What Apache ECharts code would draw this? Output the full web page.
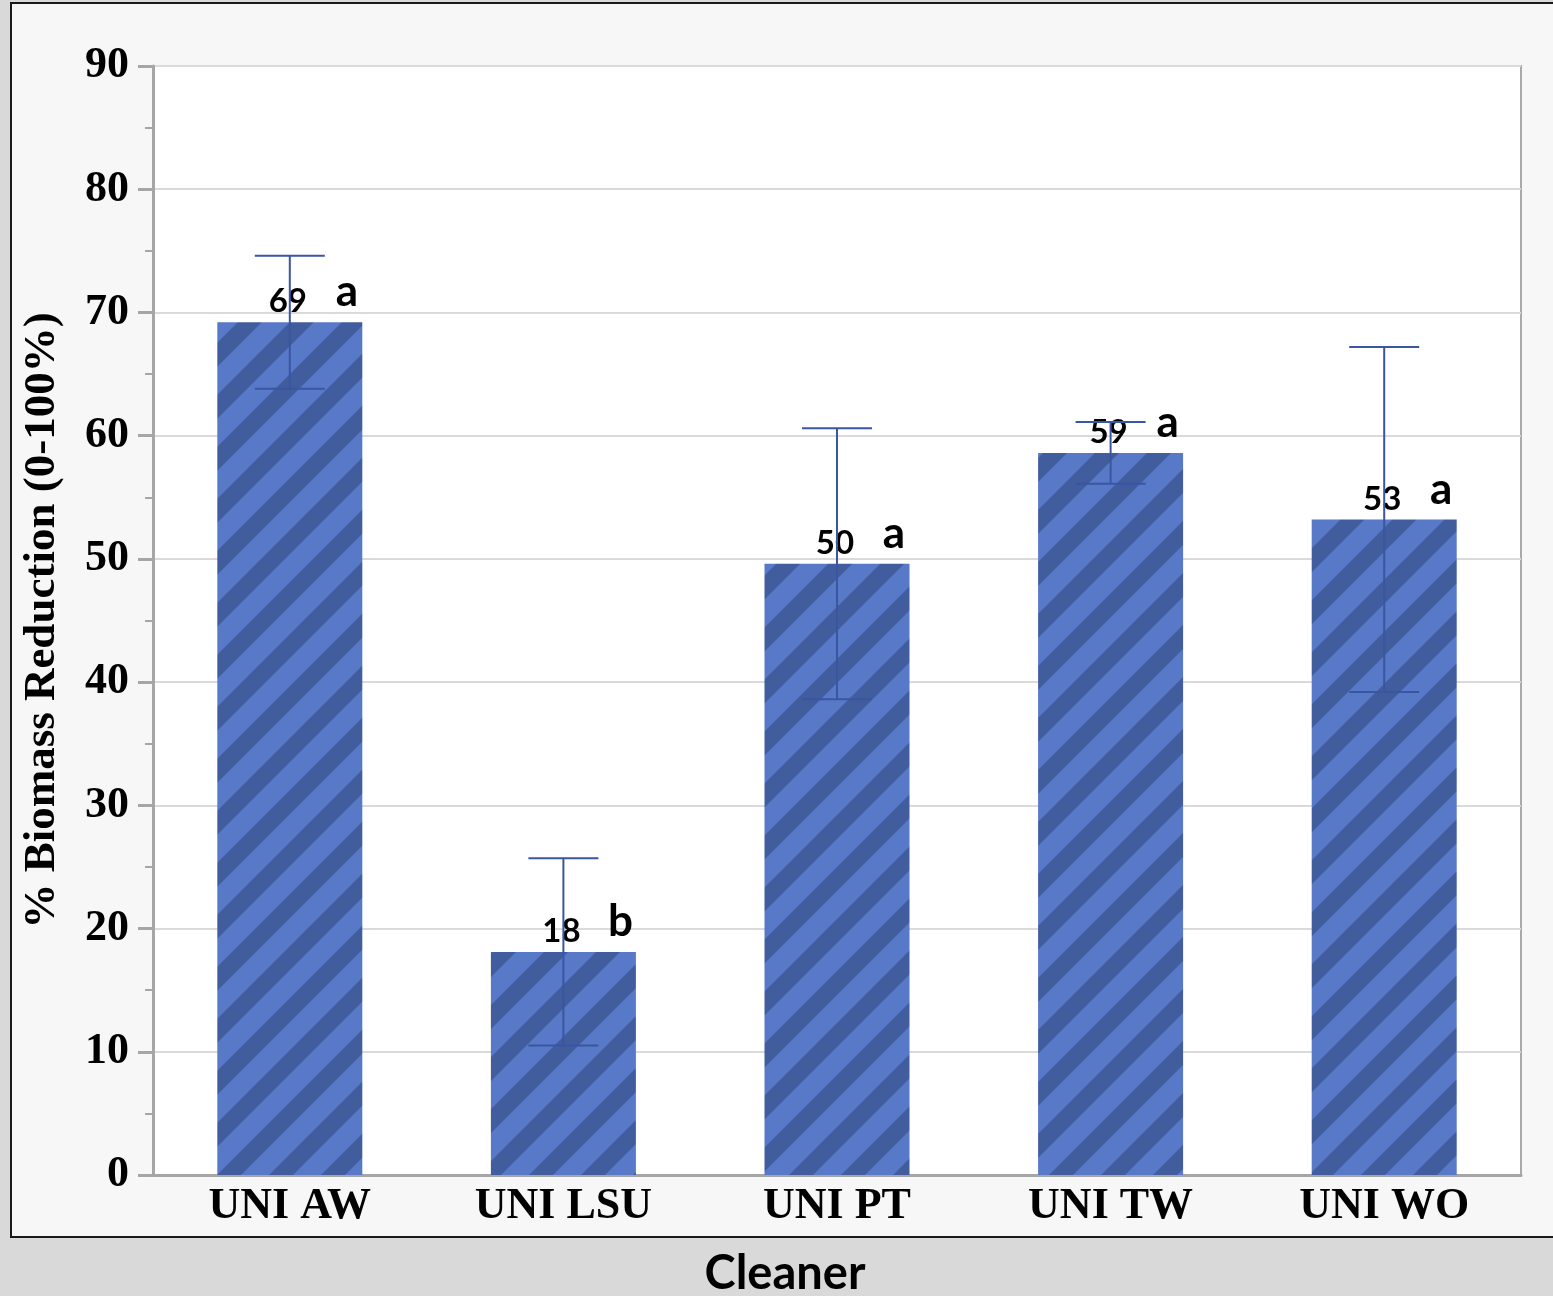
<!DOCTYPE html>
<html>
<head>
<meta charset="utf-8">
<script src="https://cdn.jsdelivr.net/npm/echarts@6/dist/echarts.min.js"></script>
<style>
html,body{margin:0;padding:0;background:#d9d9d9;}
#chart{width:1553px;height:1296px;}
</style>
</head>
<body>
<div id="chart"></div>
<script>
var categories = ['UNI AW', 'UNI LSU', 'UNI PT', 'UNI TW', 'UNI WO'];
var meanValues = [69.2, 18.1, 49.6, 58.6, 53.2];
var errorValues = [5.4, 7.6, 11.0, 2.5, 14.0];
var groupLetters = ['a', 'b', 'a', 'a', 'a'];
var yTicks = [0, 10, 20, 30, 40, 50, 60, 70, 80, 90];

function makePattern() {
  var p = 52;
  var c = document.createElement('canvas');
  c.width = p; c.height = p;
  var ctx = c.getContext('2d');
  ctx.fillStyle = '#5878c8';
  ctx.fillRect(0, 0, p, p);
  ctx.strokeStyle = '#415d9e';
  ctx.lineWidth = 17;
  ctx.lineCap = 'square';
  for (var k = -1; k <= 2; k++) {
    ctx.beginPath();
    ctx.moveTo(k * p - 2 * p, 2 * p);
    ctx.lineTo(k * p + 2 * p, -2 * p);
    ctx.stroke();
  }
  return c;
}

var chart = echarts.init(document.getElementById('chart'));
var sans = 'Lato';
var serif = 'Liberation Serif';

var option = {
  animation: false,
  graphic: [{
    type: 'rect',
    z: -10,
    shape: { x: 11, y: 3, width: 1560, height: 1234 },
    style: { fill: '#f7f7f7', stroke: '#1a1a1a', lineWidth: 2 }
  }],
  grid: {
    left: 153, right: 32, top: 66, bottom: 121,
    containLabel: false,
    outerBoundsMode: 'none',
    show: true, backgroundColor: '#ffffff', borderColor: '#a9a9a9', borderWidth: 2
  },
  xAxis: {
    type: 'category',
    data: categories,
    axisLine: { lineStyle: { color: '#a6a6a6', width: 3 } },
    axisTick: { show: false },
    axisLabel: { color: '#000', fontFamily: serif, fontWeight: 'bold', fontSize: 44, margin: 10 },
    name: 'Cleaner',
    nameLocation: 'middle',
    nameGap: 75,
    nameTextStyle: { color: '#000', fontFamily: sans, fontWeight: 'bold', fontSize: 47, padding: [0, 104, 0, 0] }
  },
  yAxis: {
    type: 'value',
    min: yTicks[0],
    max: yTicks[yTicks.length - 1],
    interval: 10,
    axisLine: { show: true, lineStyle: { color: '#a6a6a6', width: 3 } },
    axisTick: { show: true, length: 15, lineStyle: { color: '#a6a6a6', width: 3 } },
    minorTick: { show: true, splitNumber: 2, length: 8, lineStyle: { color: '#a6a6a6', width: 2 } },
    splitLine: { lineStyle: { color: '#dadada', width: 2 } },
    axisLabel: { color: '#000', fontFamily: serif, fontWeight: 'bold', fontSize: 44, margin: 24 },
    name: '% Biomass Reduction (0-100%)',
    nameLocation: 'middle',
    nameRotate: 90,
    nameGap: 88,
    nameTextStyle: { color: '#000', fontFamily: serif, fontWeight: 'bold', fontSize: 45 }
  },
  series: [{
    type: 'bar',
    data: meanValues,
    barWidth: 145,
    z: 2,
    itemStyle: { color: { image: makePattern(), repeat: 'repeat' } },
    label: {
      show: true,
      position: 'top',
      distance: 4,
      offset: [-2, 0],
      formatter: function (p) { return Math.round(p.value); },
      color: '#000',
      fontFamily: sans,
      fontWeight: 'bold',
      fontSize: 33
    }
  }, {
    type: 'custom',
    z: 4,
    data: meanValues.map(function (v, i) { return [i, v]; }),
    renderItem: function (params, api) {
      var pt = api.coord([api.value(0), api.value(1)]);
      return {
        type: 'text',
        x: pt[0] + 57,
        y: pt[1] - 8,
        style: {
          text: groupLetters[params.dataIndex],
          fill: '#000',
          font: 'bold 44px Lato',
          textAlign: 'center',
          textVerticalAlign: 'bottom'
        }
      };
    }
  }, {
    type: 'custom',
    z: 10,
    data: meanValues.map(function (v, i) { return [i, v - errorValues[i], v + errorValues[i]]; }),
    renderItem: function (params, api) {
      var lo = api.coord([api.value(0), api.value(1)]);
      var hi = api.coord([api.value(0), api.value(2)]);
      var hw = 35;
      var st = { stroke: '#3a55a2', lineWidth: 2 };
      return {
        type: 'group',
        children: [
          { type: 'line', shape: { x1: hi[0], y1: hi[1], x2: lo[0], y2: lo[1] }, style: st },
          { type: 'line', shape: { x1: hi[0] - hw, y1: hi[1], x2: hi[0] + hw, y2: hi[1] }, style: st },
          { type: 'line', shape: { x1: lo[0] - hw, y1: lo[1], x2: lo[0] + hw, y2: lo[1] }, style: st }
        ]
      };
    }
  }]
};
chart.setOption(option);
</script>
</body>
</html>
